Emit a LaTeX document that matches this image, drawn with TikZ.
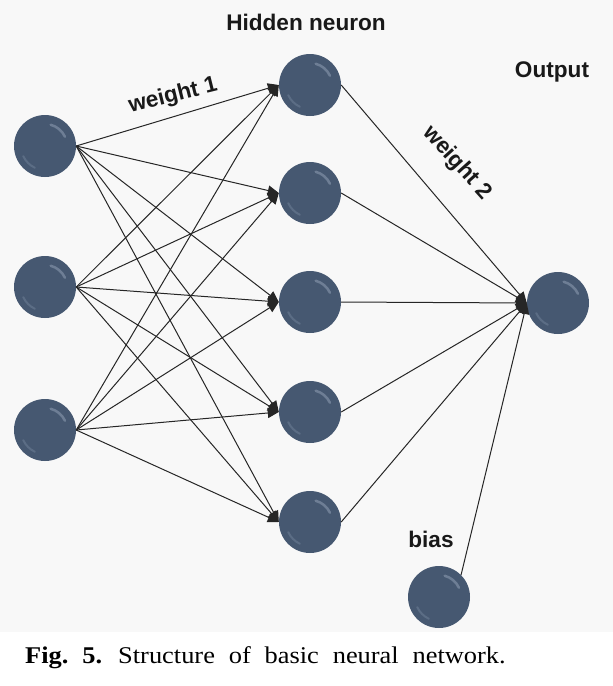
\documentclass[tikz,border=0pt]{standalone}
\usepackage{fontspec}
\setmainfont{Liberation Serif}
\newfontfamily\arialfont{Liberation Sans}
\usetikzlibrary{arrows.meta}
\definecolor{nbase}{RGB}{70,88,113}
\definecolor{nlight}{RGB}{170,185,205}
\definecolor{bgc}{RGB}{248,248,248}
\tikzset{
  neuron/.style={circle, minimum size=62pt, inner sep=0pt, fill=nbase,
    path picture={
      \draw[nlight, opacity=0.4, line width=2.5pt, line cap=round]
        ([shift={(-75:22)}]path picture bounding box.center) arc (-75:-25:22);
      \draw[nlight, opacity=0.22, line width=2pt, line cap=round]
        ([shift={(115:24)}]path picture bounding box.center) arc (115:155:24);
    }},
  conn/.style={draw=black!85, line width=1pt, -{Triangle[length=11pt,width=10pt]}},
  lbl/.style={font=\arialfont\bfseries\fontsize{22.6}{26}\selectfont, inner sep=0pt, text=black!90}
}
\begin{document}
\begin{tikzpicture}[x=1pt, y=-1pt]
  \useasboundingbox (0,0) rectangle (613,686);
  \fill[bgc] (0,0) rectangle (613,632);
  % input layer
  \node[neuron] (i1) at (45,146) {};
  \node[neuron] (i2) at (45,287) {};
  \node[neuron] (i3) at (45,430) {};
  % hidden layer
  \node[neuron] (h1) at (310,85) {};
  \node[neuron] (h2) at (310,193) {};
  \node[neuron] (h3) at (310,302) {};
  \node[neuron] (h4) at (310,412) {};
  \node[neuron] (h5) at (310,522) {};
  % output and bias
  \node[neuron] (out) at (558,303) {};
  \node[neuron] (b) at (439,597) {};
  % connections
  \foreach \i in {1,2,3}
    \foreach \h in {1,...,5}
      \draw[conn] (i\i.east) -- (h\h.west);
  \foreach \h in {1,...,5}
    \draw[conn] (h\h.east) -- (out.west);
  \draw[conn] (b.north east) -- (out.west);
  % labels
  \node[lbl, anchor=base] (hn) at (306,30) {Hidden neuron};
  \node[lbl, anchor=base] (op) at (552,77) {Output};
  \node[lbl, rotate=14] (w1) at (173,96) {weight 1};
  \node[lbl, rotate=-48] (w2) at (457,163) {weight 2};
  \node[lbl, anchor=base] (bs) at (431,547) {bias};
  % caption
  \node[anchor=base west, inner sep=0pt, xscale=1.1, font=\fontsize{24}{28}\selectfont] (cap) at (25,663)
    {\spaceskip=12.6pt\relax\textbf{Fig.\ 5.} Structure of basic neural network.};
\end{tikzpicture}
\end{document}
